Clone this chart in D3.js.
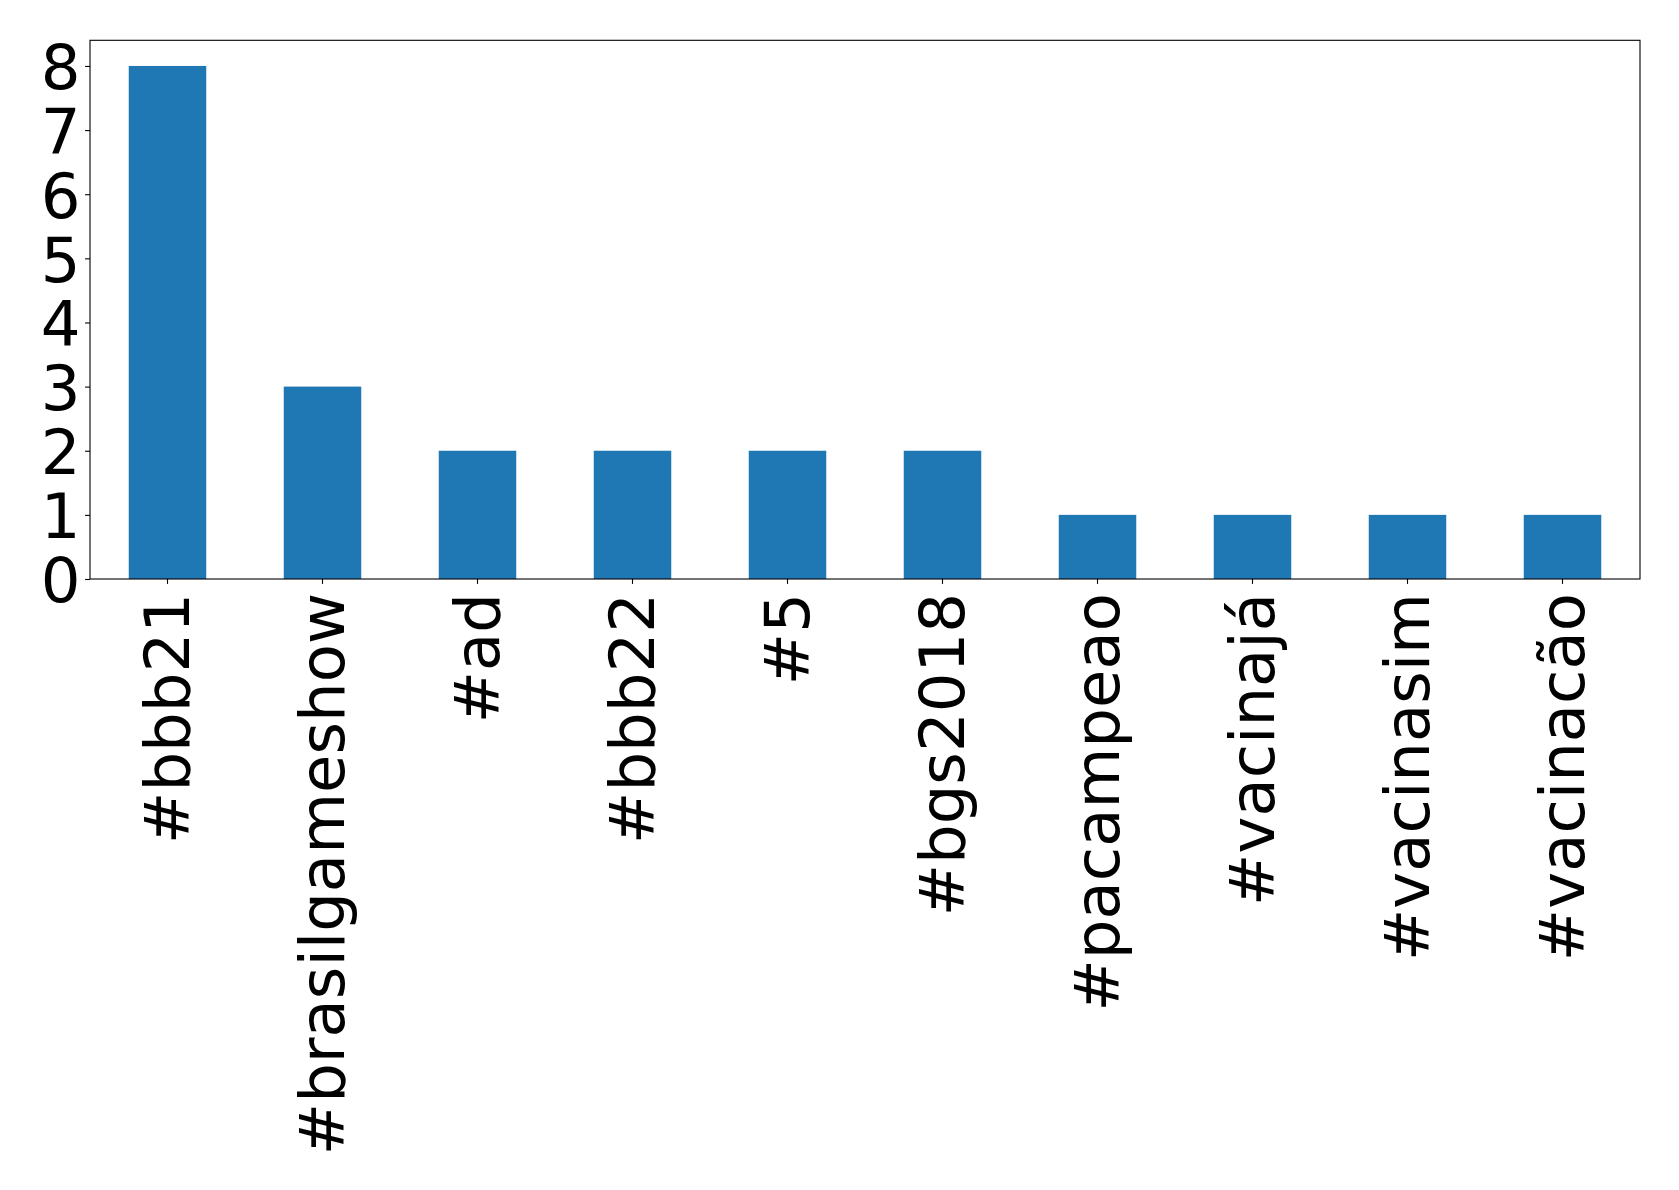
<!DOCTYPE html>
<html>
<head>
<meta charset="utf-8">
<script src="https://cdn.jsdelivr.net/npm/d3@7"></script>
<style>
  html, body { margin: 0; padding: 0; background: #fff; }
  svg { display: block; }
  text { font-family: "DejaVu Sans", sans-serif; fill: #000; }
</style>
</head>
<body>
<script>
const categories = ["#bbb21", "#brasilgameshow", "#ad", "#bbb22", "#5", "#bgs2018", "#pacampeao", "#vacinajá", "#vacinasim", "#vacinacão"];
const values = [8, 3, 2, 2, 2, 2, 1, 1, 1, 1];
const yTicks = [0, 1, 2, 3, 4, 5, 6, 7, 8];

const W = 1679, H = 1190;
const mLeft = 90, mRight = 1640, mTop = 40.3, mBottom = 579;
const fontSize = 62.5;

const svg = d3.select("body").append("svg").attr("width", W).attr("height", H);

const x = d3.scaleBand().domain(categories).range([mLeft, mRight]).paddingInner(0.5).paddingOuter(0.25);
const y = d3.scaleLinear().domain([0, 8.4]).range([mBottom, mTop]);

svg.append("g").selectAll("rect").data(categories).join("rect")
  .attr("x", d => x(d))
  .attr("width", x.bandwidth())
  .attr("y", (d, i) => y(values[i]))
  .attr("height", (d, i) => y(0) - y(values[i]))
  .attr("fill", "#1f77b4");

// frame
svg.append("rect").attr("x", mLeft).attr("y", mTop).attr("width", mRight - mLeft).attr("height", mBottom - mTop)
  .attr("fill", "none").attr("stroke", "#000").attr("stroke-width", 1.1);

// y axis
const yAxis = svg.append("g").attr("transform", `translate(${mLeft},0)`)
  .call(d3.axisLeft(y).tickValues(yTicks).tickSize(4.9).tickPadding(4.9).tickFormat(d3.format("d")));
yAxis.select(".domain").remove();
yAxis.selectAll(".tick line").attr("stroke", "#000").attr("stroke-width", 1.1);
yAxis.selectAll(".tick text").attr("font-size", fontSize).attr("font-family", "DejaVu Sans")
  .attr("dy", "0.365em").attr("x", -9.5);

// x axis
const xAxis = svg.append("g").attr("transform", `translate(0,${mBottom})`)
  .call(d3.axisBottom(x).tickSize(4.9).tickPadding(0));
xAxis.select(".domain").remove();
xAxis.selectAll(".tick line").attr("stroke", "#000").attr("stroke-width", 1.1);
xAxis.selectAll(".tick text")
  .attr("font-size", fontSize).attr("font-family", "DejaVu Sans")
  .attr("text-anchor", "end")
  .attr("transform", "translate(0,14) rotate(-90)")
  .attr("x", 0).attr("y", 21).attr("dy", 0);
</script>
</body>
</html>
